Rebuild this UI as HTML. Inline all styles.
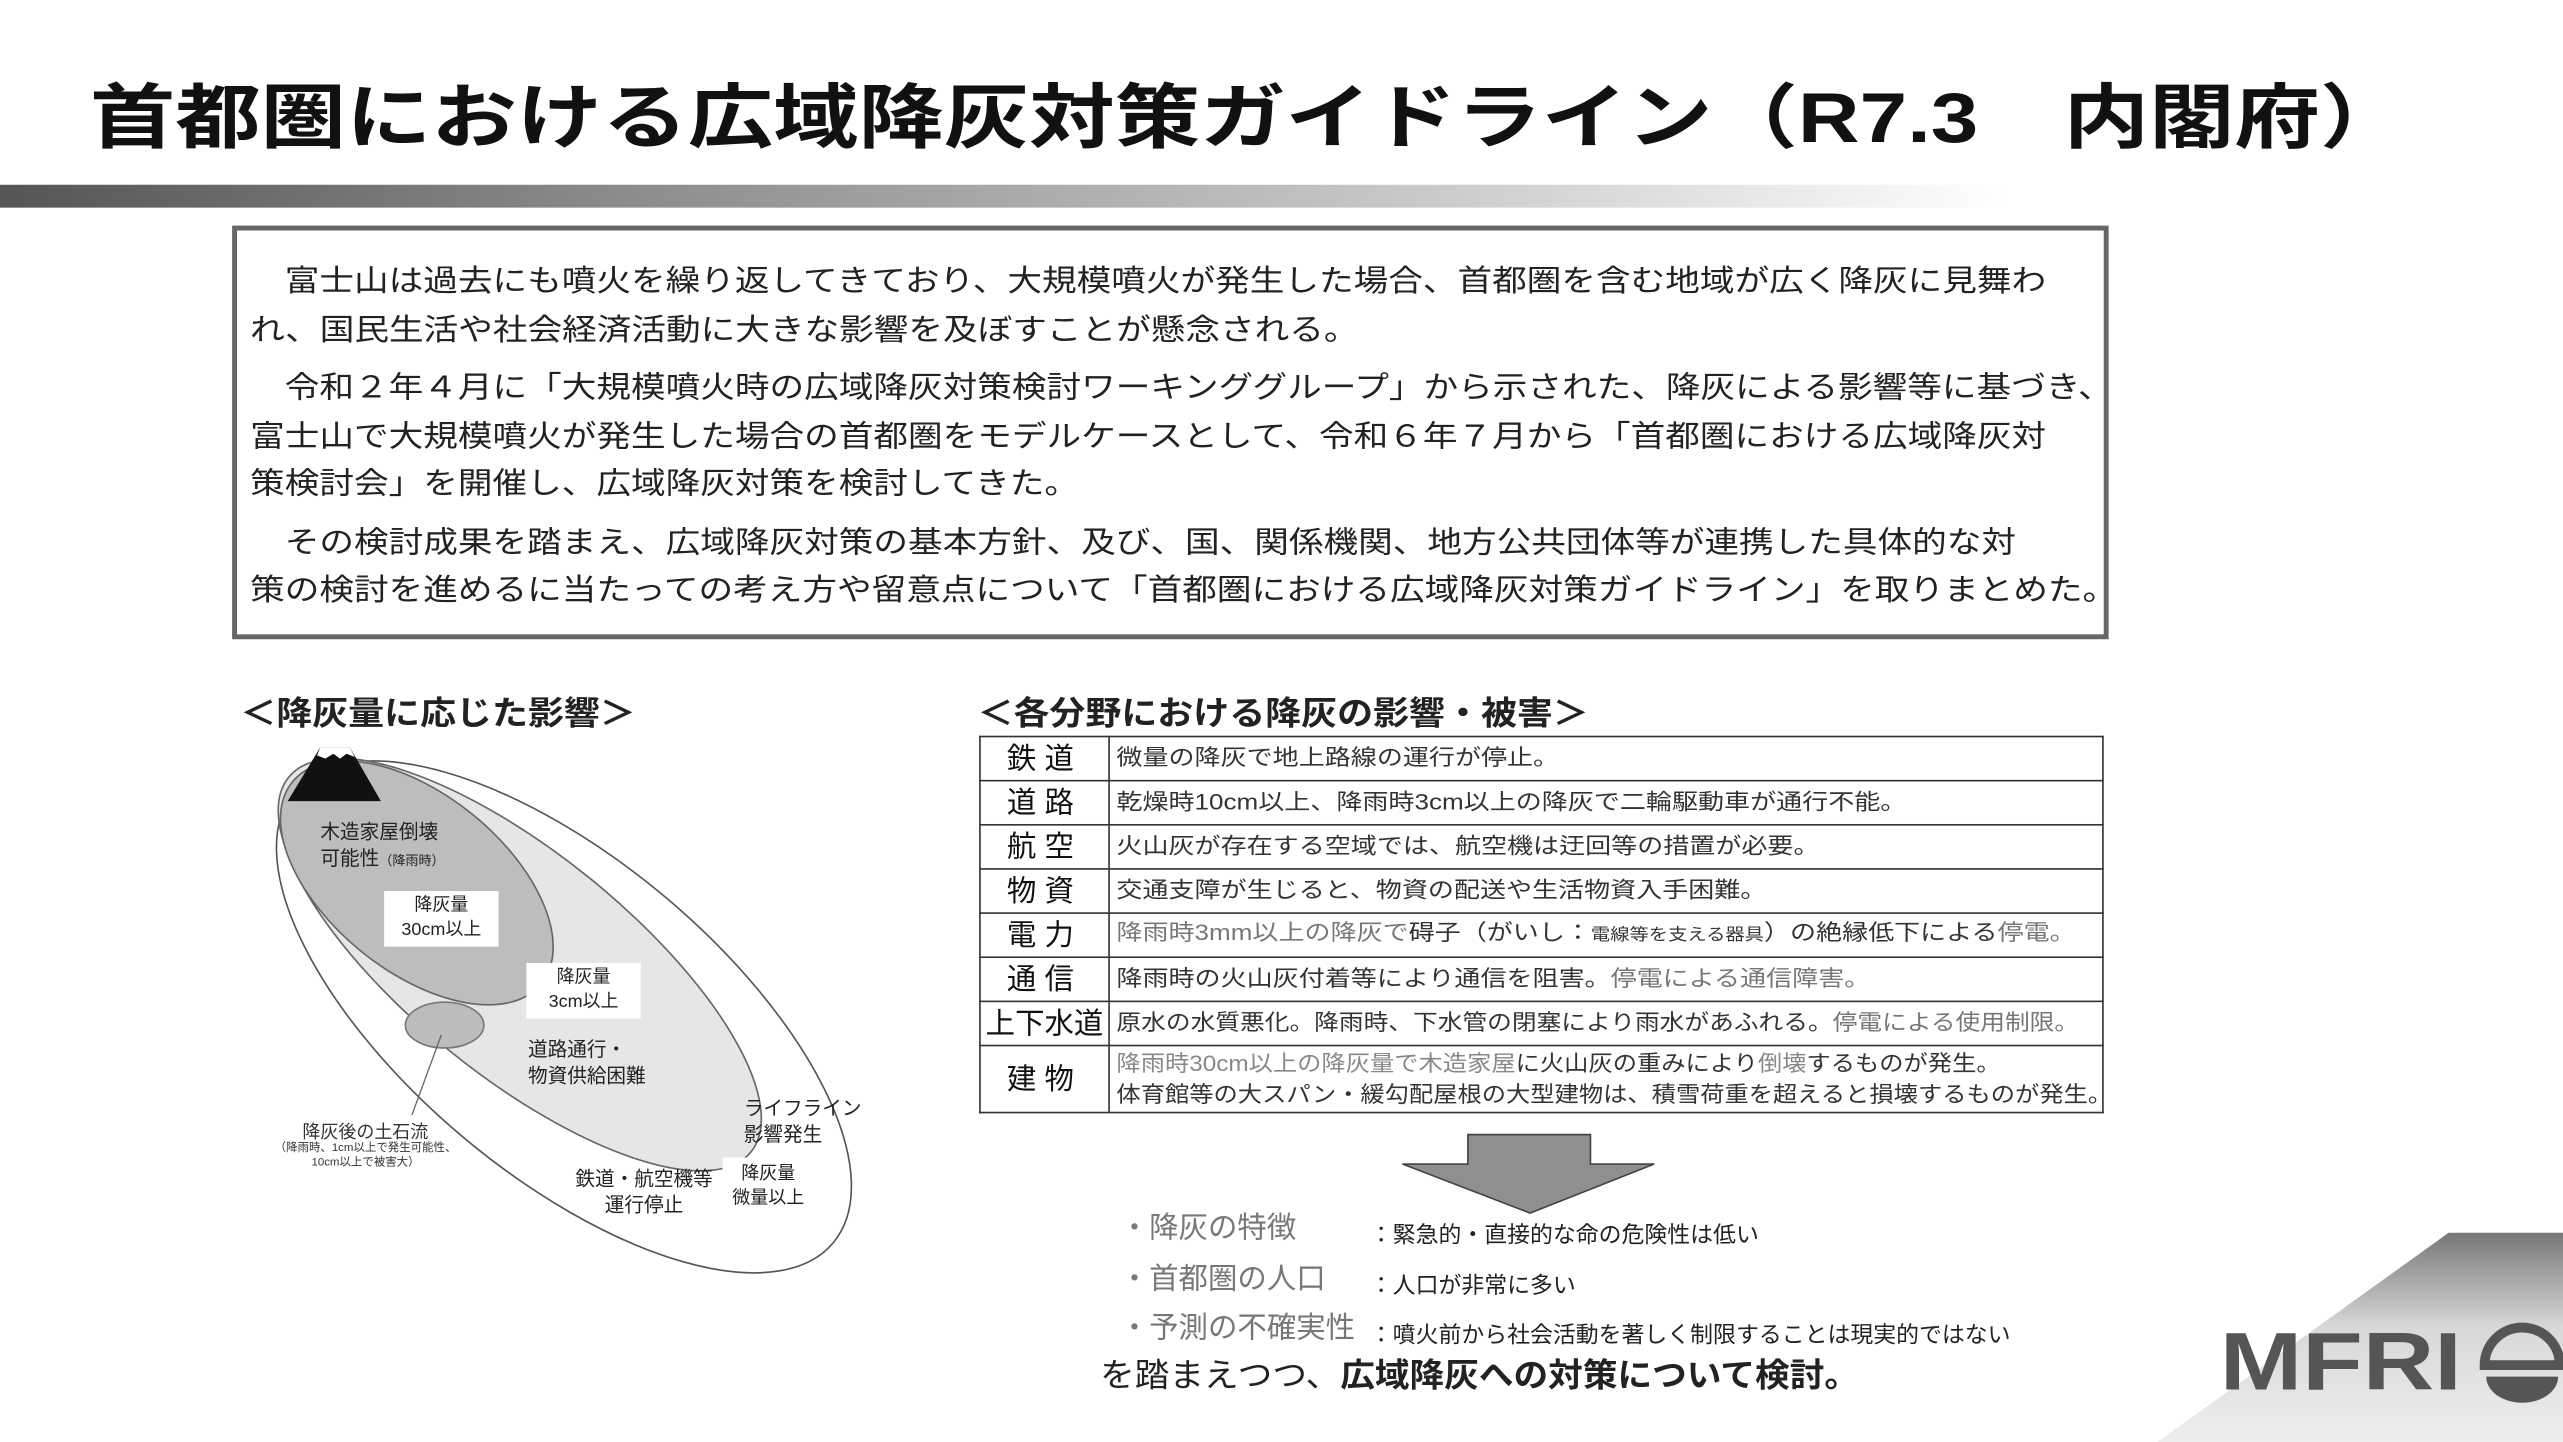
<!DOCTYPE html>
<html><head><meta charset="utf-8">
<style>
html,body{margin:0;padding:0;background:#fff;}
body{width:2563px;height:1442px;overflow:hidden;position:relative;}
#c{position:absolute;left:0;top:0;width:1568px;height:882px;transform-origin:0 0;transform:scale(1.6346,1.6349);font-family:"Liberation Sans","Noto Sans CJK JP",sans-serif;color:#222;}
.a{position:absolute;white-space:nowrap;}
.box p{margin:0;}
table{border-collapse:collapse;}
td{border:1.5px solid #333;padding:0 4px;font-size:13.5px;color:#333;height:26px;line-height:18px;white-space:nowrap;}
td.l{width:78px;font-size:18px;text-align:center;letter-spacing:5px;padding:0;color:#111;}
.s{display:inline-block;transform:scaleX(1.18);transform-origin:0 50%;}
</style></head><body><div id="c">
<div class="a" style="left:55px;top:38px;font-size:43px;font-weight:bold;color:#111;transform:scaleX(1.215);transform-origin:0 0;">首都圏における広域降灰対策ガイドライン（R7.3　内閣府）</div>
<div class="a" style="left:0;top:113px;width:1230px;height:14px;background:linear-gradient(to right,#555 0%,#8a8a8a 30%,#c8c8c8 70%,#fff 100%);"></div>

<div class="a box" style="left:142px;top:138px;width:1142px;height:247px;border:3px solid #666;background:#fff;">
<div class="a" style="left:8px;top:16px;font-size:18.5px;line-height:29.5px;color:#222;transform:scaleX(1.145);transform-origin:0 0;">
<p>　富士山は過去にも噴火を繰り返してきており、大規模噴火が発生した場合、首都圏を含む地域が広く降灰に見舞わ</p>
<p>れ、国民生活や社会経済活動に大きな影響を及ぼすことが懸念される。</p>
<p style="margin-top:6px">　令和２年４月に「大規模噴火時の広域降灰対策検討ワーキンググループ」から示された、降灰による影響等に基づき、</p>
<p>富士山で大規模噴火が発生した場合の首都圏をモデルケースとして、令和６年７月から「首都圏における広域降灰対</p>
<p>策検討会」を開催し、広域降灰対策を検討してきた。</p>
<p style="margin-top:6px">　その検討成果を踏まえ、広域降灰対策の基本方針、及び、国、関係機関、地方公共団体等が連携した具体的な対</p>
<p>策の検討を進めるに当たっての考え方や留意点について「首都圏における広域降灰対策ガイドライン」を取りまとめた。</p>
</div></div>

<div class="a" style="left:147px;top:420px;font-size:20px;font-weight:bold;color:#222;transform:scaleX(1.1);transform-origin:0 0;">＜降灰量に応じた影響＞</div>
<div class="a" style="left:598px;top:420px;font-size:20px;font-weight:bold;color:#222;transform:scaleX(1.1);transform-origin:0 0;">＜各分野における降灰の影響・被害＞</div>

<svg class="a" style="left:0;top:0" width="1568" height="882">
<ellipse cx="345" cy="622" rx="215" ry="96" transform="rotate(40 345 622)" fill="#fff" stroke="#555" stroke-width="1"/>
<ellipse cx="318" cy="590" rx="182" ry="68" transform="rotate(39 318 590)" fill="#e6e6e6" stroke="#666" stroke-width="1"/>
<ellipse cx="255" cy="540" rx="98" ry="54" transform="rotate(39 255 540)" fill="#bdbdbd" stroke="#666" stroke-width="1"/>
<ellipse cx="272" cy="627" rx="24" ry="14" fill="#bcbcbc" stroke="#777" stroke-width="1"/>
<line x1="270" y1="633" x2="252" y2="682" stroke="#666" stroke-width="0.8"/>
<polygon points="176,490 233,490 214,457 196,457" fill="#111"/>
<polygon points="196,457 214,457 217,463 212,461 208,464 204,461 199,464 194,462" fill="#fff"/>
<rect x="235" y="545" width="70" height="34" fill="#fff"/>
<rect x="322" y="589" width="70" height="34" fill="#fff"/>
<rect x="442" y="708" width="56" height="38" fill="#fff"/>
<polygon points="898,694 973,694 973,712 1012,712 936,742 858,712 898,712" fill="#8f8f8f" stroke="#444" stroke-width="1"/>
</svg>
<div class="a" style="left:196px;top:501px;font-size:12px;line-height:16px;color:#222;">木造家屋倒壊<br>可能性<span style="font-size:8px">（降雨時）</span></div>
<div class="a" style="left:243px;top:547px;font-size:11px;line-height:15px;text-align:center;width:54px;">降灰量<br>30cm以上</div>
<div class="a" style="left:329px;top:591px;font-size:11px;line-height:15px;text-align:center;width:56px;">降灰量<br>3cm以上</div>
<div class="a" style="left:323px;top:634px;font-size:12px;line-height:16px;">道路通行・<br>物資供給困難</div>
<div class="a" style="left:455px;top:670px;font-size:12px;line-height:16px;">ライフライン<br>影響発生</div>
<div class="a" style="left:352px;top:713px;font-size:12px;line-height:16px;text-align:center;">鉄道・航空機等<br>運行停止</div>
<div class="a" style="left:443px;top:711px;font-size:11px;line-height:15px;text-align:center;width:54px;">降灰量<br>微量以上</div>
<div class="a" style="left:185px;top:684px;font-size:11px;color:#333;">降灰後の土石流</div>
<div class="a" style="left:168px;top:698px;font-size:7px;line-height:9px;color:#333;text-align:center;">（降雨時、1cm以上で発生可能性、<br>10cm以上で被害大）</div>

<table class="a" style="left:599px;top:450px;width:688px;">
<tr><td class="l">鉄道</td><td><span class="s">微量の降灰で地上路線の運行が停止。</span></td></tr>
<tr><td class="l">道路</td><td><span class="s">乾燥時10cm以上、降雨時3cm以上の降灰で二輪駆動車が通行不能。</span></td></tr>
<tr><td class="l">航空</td><td><span class="s">火山灰が存在する空域では、航空機は迂回等の措置が必要。</span></td></tr>
<tr><td class="l">物資</td><td><span class="s">交通支障が生じると、物資の配送や生活物資入手困難。</span></td></tr>
<tr><td class="l">電力</td><td><span class="s"><span style="color:#777">降雨時3mm以上の降灰で</span>碍子（がいし：<span style="font-size:10px">電線等を支える器具</span>）の絶縁低下による<span style="color:#777">停電。</span></span></td></tr>
<tr><td class="l">通信</td><td><span class="s">降雨時の火山灰付着等により通信を阻害。<span style="color:#777">停電による通信障害。</span></span></td></tr>
<tr><td class="l" style="letter-spacing:0">上下水道</td><td><span class="s" style="transform:scaleX(1.12)">原水の水質悪化。降雨時、下水管の閉塞により雨水があふれる。<span style="color:#777">停電による使用制限。</span></span></td></tr>
<tr><td class="l" style="height:40px">建物</td><td style="line-height:19px"><span class="s" style="transform:scaleX(1.1)"><span style="color:#888">降雨時30cm以上の降灰量で木造家屋</span>に火山灰の重みにより<span style="color:#888">倒壊</span>するものが発生。<br>体育館等の大スパン・緩勾配屋根の大型建物は、積雪荷重を超えると損壊するものが発生。</span></td></tr>
</table>

<div class="a" style="left:685px;top:736px;font-size:18px;color:#777;line-height:30.5px;">・降灰の特徴<br>・首都圏の人口<br>・予測の不確実性</div>
<div class="a" style="left:838px;top:740px;font-size:14px;color:#222;line-height:30.5px;">：緊急的・直接的な命の危険性は低い<br>：人口が非常に多い<br>：噴火前から社会活動を著しく制限することは現実的ではない</div>
<div class="a" style="left:673px;top:825px;font-size:20px;color:#222;transform:scaleX(1.06);transform-origin:0 0;">を踏まえつつ、<b>広域降灰への対策について検討。</b></div>

<svg class="a" style="left:1300px;top:750px" width="268" height="132">
<defs><linearGradient id="g" x1="0" y1="0" x2="0" y2="1"><stop offset="0" stop-color="#777"/><stop offset="0.45" stop-color="#d8d8d8"/><stop offset="1" stop-color="#eee"/></linearGradient></defs>
<polygon points="198,4 268,4 268,132 20,132" fill="url(#g)"/>
<text x="58" y="100" font-family="Liberation Sans,sans-serif" font-size="50" font-weight="bold" fill="#555" textLength="148" lengthAdjust="spacingAndGlyphs">MFRI</text>
<path d="M220,85 a23,23 0 0 1 46,0 z" fill="none" stroke="#555" stroke-width="6"/>
<path d="M221,92 h44 a22,16 0 0 1 -44,0 z" fill="#555"/>
</svg>
</div></body></html>
